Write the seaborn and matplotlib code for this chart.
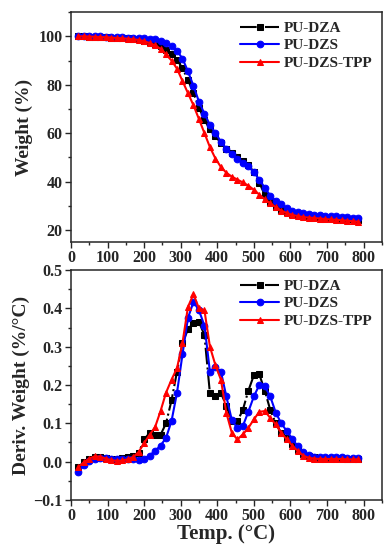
import seaborn as sns
import matplotlib.pyplot as plt
from matplotlib.ticker import MultipleLocator
import pandas as pd

temps = [20, 35, 50, 65, 80, 95, 110, 125, 140, 155, 170, 185, 200, 215, 230, 245,
         260, 275, 290, 305, 320, 335, 350, 365, 380, 395, 410, 425, 440, 455, 470,
         485, 500, 515, 530, 545, 560, 575, 590, 605, 620, 635, 650, 665, 680, 695,
         710, 725, 740, 755, 770, 785]

tga_dza = [100.0, 100.0, 99.9, 99.8, 99.7, 99.6, 99.5, 99.4, 99.3, 99.2, 99.0, 98.7,
           98.2, 97.5, 96.7, 95.8, 94.5, 92.8, 90.3, 86.8, 82.0, 76.5, 70.5, 65.5,
           61.5, 58.6, 56.0, 53.5, 51.6, 50.0, 48.5, 46.8, 44.0, 39.5, 34.5, 31.5,
           29.6, 28.3, 27.4, 26.7, 26.2, 25.9, 25.6, 25.4, 25.2, 25.0, 24.9, 24.7,
           24.6, 24.5, 24.3, 24.2]
tga_dzs = [100.0, 100.1, 100.1, 100.0, 100.0, 99.9, 99.8, 99.7, 99.6, 99.5, 99.4,
           99.3, 99.2, 99.0, 98.7, 98.2, 97.4, 96.0, 94.0, 90.8, 85.5, 79.5, 73.0,
           68.0, 63.4, 60.0, 56.5, 53.5, 51.2, 49.2, 47.7, 46.2, 43.8, 40.8, 37.4,
           34.2, 32.0, 30.5, 29.2, 28.0, 27.3, 26.8, 26.5, 26.2, 26.0, 25.8, 25.7,
           25.6, 25.4, 25.3, 25.1, 25.0]
tga_tpp = [100.0, 100.0, 99.9, 99.8, 99.7, 99.6, 99.5, 99.3, 99.2, 99.0, 98.8, 98.5,
           98.0, 97.2, 96.3, 94.8, 92.5, 90.0, 86.6, 81.5, 76.5, 71.5, 65.8, 60.0,
           54.2, 49.5, 46.0, 43.6, 42.0, 40.8, 39.6, 38.3, 36.6, 34.6, 32.6, 31.0,
           29.4, 28.0, 27.0, 26.2, 25.7, 25.3, 25.1, 24.9, 24.7, 24.5, 24.3, 24.2,
           24.0, 23.8, 23.6, 23.4]

dtg_dza = [-0.014, -0.002, 0.006, 0.011, 0.012, 0.009, 0.006, 0.006, 0.009, 0.012,
           0.014, 0.022, 0.058, 0.075, 0.070, 0.070, 0.100, 0.160, 0.235, 0.310,
           0.345, 0.363, 0.365, 0.330, 0.178, 0.172, 0.180, 0.145, 0.105, 0.105,
           0.135, 0.185, 0.225, 0.228, 0.185, 0.135, 0.100, 0.075, 0.062, 0.046,
           0.030, 0.020, 0.014, 0.011, 0.009, 0.009, 0.009, 0.009, 0.009, 0.008,
           0.008, 0.008]
dtg_dzs = [-0.026, -0.010, 0.002, 0.007, 0.010, 0.009, 0.007, 0.006, 0.006, 0.006,
           0.006, 0.005, 0.008, 0.016, 0.028, 0.042, 0.062, 0.106, 0.180, 0.280,
           0.375, 0.417, 0.395, 0.355, 0.235, 0.248, 0.235, 0.170, 0.108, 0.088,
           0.093, 0.130, 0.170, 0.200, 0.197, 0.170, 0.128, 0.100, 0.080, 0.060,
           0.040, 0.025, 0.017, 0.013, 0.012, 0.012, 0.011, 0.011, 0.011, 0.010,
           0.010, 0.010]
dtg_tpp = [-0.014, -0.002, 0.008, 0.014, 0.013, 0.008, 0.004, 0.002, 0.003, 0.006,
           0.012, 0.025, 0.048, 0.070, 0.090, 0.132, 0.180, 0.214, 0.244, 0.310,
           0.404, 0.437, 0.400, 0.395, 0.300, 0.252, 0.214, 0.127, 0.075, 0.058,
           0.071, 0.088, 0.110, 0.130, 0.132, 0.114, 0.097, 0.075, 0.058, 0.042,
           0.028, 0.016, 0.010, 0.008, 0.007, 0.007, 0.007, 0.007, 0.007, 0.006,
           0.006, 0.006]

labels = ['PU-DZA', 'PU-DZS', 'PU-DZS-TPP']
colors = ['black', 'blue', 'red']
markers = ['s', 'o', '^']
styles = [(0, (8, 1.5, 1, 1.5)), '-', '-']

sns.set_style('ticks')
plt.rcParams['font.family'] = ['Liberation Serif', 'DejaVu Serif']
plt.rcParams['font.weight'] = 'bold'
plt.rcParams['axes.labelweight'] = 'bold'

fig = plt.figure(figsize=(3.92, 5.5), dpi=100)
ax1 = fig.add_axes([0.181, 0.56, 0.793, 0.418])
ax2 = fig.add_axes([0.181, 0.091, 0.793, 0.418])

for ax, series in [(ax1, [tga_dza, tga_dzs, tga_tpp]),
                   (ax2, [dtg_dza, dtg_dzs, dtg_tpp])]:
    for y, lab, c, m, ls in zip(series, labels, colors, markers, styles):
        df = pd.DataFrame({'T': temps, 'v': y})
        sns.lineplot(data=df, x='T', y='v', ax=ax, color=c, marker=m,
                     linestyle=ls, linewidth=1.5, markersize=4.8,
                     markeredgecolor=c, label=lab)
    ax.set_xlim(0, 850)
    ax.xaxis.set_major_locator(MultipleLocator(100))
    ax.xaxis.set_minor_locator(MultipleLocator(50))
    ax.tick_params(which='both', direction='out', labelsize=11.5, width=1,
                   top=False, right=False, pad=2)
    ax.tick_params(which='major', length=4)
    ax.tick_params(which='minor', length=2.5)
    for s in ax.spines.values():
        s.set_linewidth(1.1)
    ax.legend(loc='upper right', frameon=False, fontsize=11, handlelength=2.6,
              borderaxespad=0.2, labelspacing=0.25, handletextpad=0.3)

ax1.set_ylim(15, 110)
ax1.yaxis.set_major_locator(MultipleLocator(20))
ax1.yaxis.set_minor_locator(MultipleLocator(10))
ax1.set_xlabel('')
ax1.set_ylabel('Weight (%)', fontsize=14, labelpad=4)

ax2.set_ylim(-0.1, 0.5)
ax2.yaxis.set_major_locator(MultipleLocator(0.1))
ax2.yaxis.set_minor_locator(MultipleLocator(0.05))
ax2.set_xlabel('Temp. (°C)', fontsize=15, labelpad=0)
ax2.set_ylabel('Deriv. Weight (%/°C)', fontsize=14, labelpad=2)

fig.savefig('out.png', dpi=100)
